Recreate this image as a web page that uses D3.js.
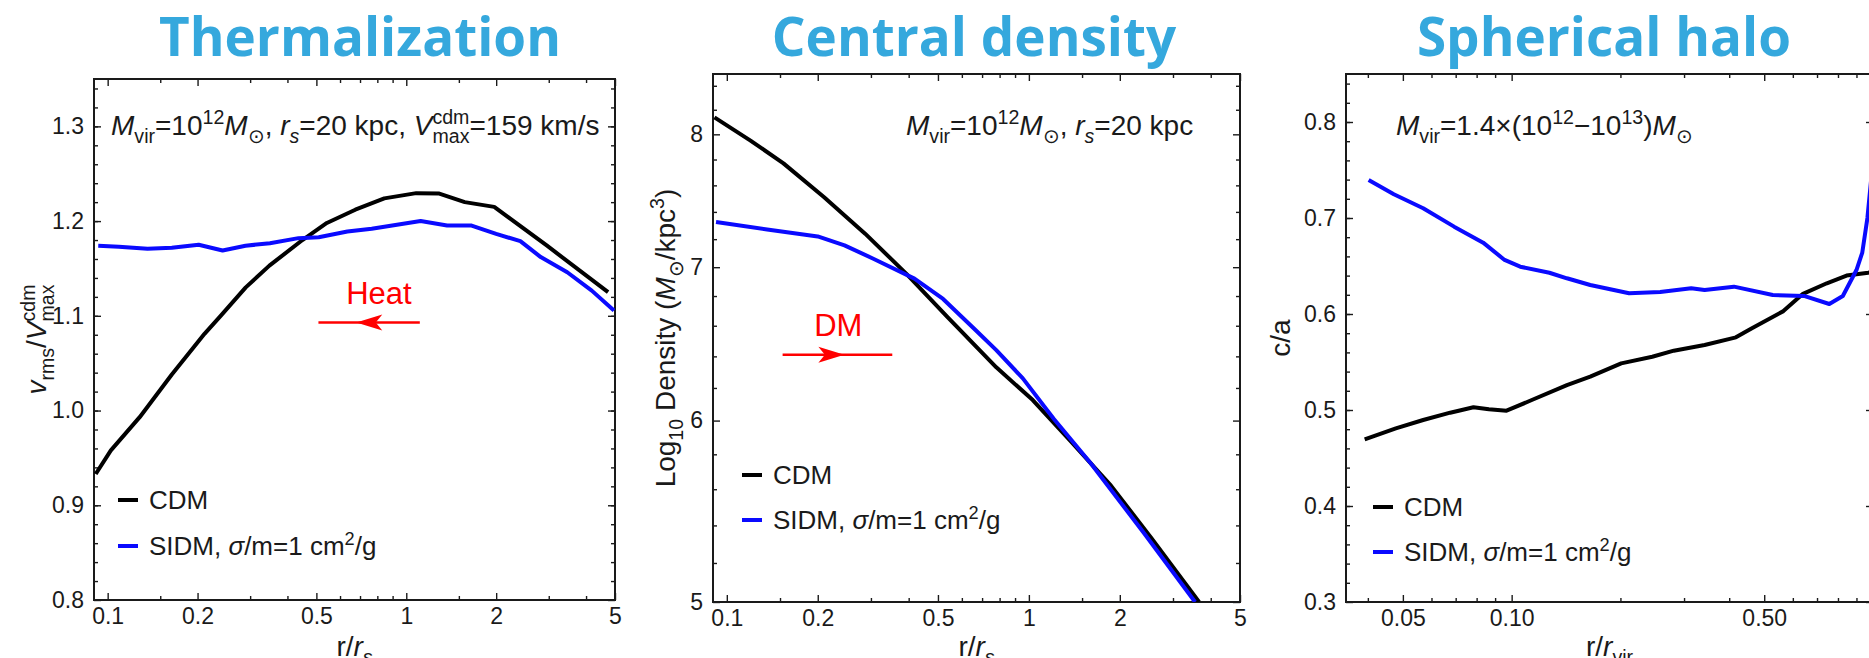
<!DOCTYPE html>
<html>
<head>
<meta charset="utf-8">
<script src="https://cdn.jsdelivr.net/npm/d3@7"></script>
<style>
  body { margin: 0; background: #fff; }
  svg text { font-family: "Liberation Sans", Arial, Helvetica, sans-serif; fill: #1a1a1a; }
</style>
</head>
<body>
<div id="vis-container"></div>
<script>
////////////////////////////////////
/////////////// Data ///////////////
////////////////////////////////////

// panel 1 : thermalization, v_rms / V_max^cdm vs r/r_s
const thermCdmR = [0.0912, 0.1025, 0.128, 0.164, 0.211, 0.239, 0.29, 0.348, 0.449, 0.542, 0.675, 0.844, 1.08, 1.29, 1.57, 1.97, 2.96, 4.74]
const thermCdmV = [0.933, 0.958, 0.993, 1.038, 1.081, 1.10, 1.13, 1.153, 1.18, 1.198, 1.212, 1.224, 1.2295, 1.229, 1.22, 1.215, 1.174, 1.125]
const thermSidmR = [0.093, 0.109, 0.136, 0.164, 0.2017, 0.2426, 0.2895, 0.3495, 0.4355, 0.509, 0.635, 0.766, 1.117, 1.37, 1.655, 2.0, 2.41, 2.82, 3.46, 4.18, 4.96]
const thermSidmV = [1.174, 1.173, 1.1707, 1.1718, 1.175, 1.169, 1.174, 1.1767, 1.182, 1.183, 1.189, 1.192, 1.20, 1.1953, 1.1953, 1.1865, 1.1788, 1.162, 1.146, 1.1266, 1.1055]

// panel 2 : central density, log10 density vs r/r_s
const densCdmR = [0.091, 0.1198, 0.154, 0.21, 0.287, 0.3925, 0.536, 0.78, 1.03, 1.37, 1.87, 2.55, 3.66]
const densCdmV = [8.137, 7.95, 7.77, 7.51, 7.24, 6.955, 6.66, 6.33, 6.125, 5.88, 5.62, 5.33, 5.0]
const densSidmR = [0.0921, 0.136, 0.2, 0.2453, 0.3055, 0.418, 0.52, 0.667, 0.78, 0.955, 1.21, 1.6, 2.4, 3.55]
const densSidmV = [7.325, 7.27, 7.22, 7.155, 7.06, 6.92, 6.78, 6.57, 6.44, 6.26, 6.01, 5.75, 5.36, 5.0]

// panel 3 : spherical halo, c/a vs r/r_vir
const shapeCdmR = [0.0392, 0.0478, 0.0569, 0.0676, 0.0784, 0.0865, 0.0968, 0.1137, 0.1422, 0.165, 0.201, 0.245, 0.281, 0.342, 0.4175, 0.461, 0.565, 0.64, 0.745, 0.845, 0.97, 1.0]
const shapeCdmV = [0.4695, 0.4809, 0.4896, 0.4972, 0.5028, 0.5007, 0.4993, 0.5104, 0.526, 0.5347, 0.5486, 0.5555, 0.5618, 0.5677, 0.5757, 0.585, 0.603, 0.621, 0.632, 0.64, 0.643, 0.644]
const shapeSidmR = [0.0402, 0.0472, 0.0569, 0.0693, 0.0834, 0.0956, 0.1056, 0.1272, 0.1422, 0.165, 0.2113, 0.2576, 0.314, 0.342, 0.4123, 0.528, 0.644, 0.757, 0.825, 0.9, 0.934, 0.965, 1.0]
const shapeSidmV = [0.7396, 0.7247, 0.7101, 0.691, 0.6743, 0.6563, 0.6493, 0.643, 0.6372, 0.6302, 0.6216, 0.623, 0.6268, 0.625, 0.6285, 0.6198, 0.6188, 0.6104, 0.6188, 0.6458, 0.664, 0.70, 0.76]

// ticks
const rsMajor = [0.1, 0.2, 0.5, 1, 2, 5]
const rsMajorLabels = ["0.1", "0.2", "0.5", "1", "2", "5"]
const rsMinor = [0.15, 0.3, 0.4, 0.6, 0.7, 0.8, 0.9, 1.5, 3, 4]
const rvirMajor = [0.05, 0.1, 0.5]
const rvirMajorLabels = ["0.05", "0.10", "0.50"]
const rvirMinor = [0.04, 0.06, 0.07, 0.08, 0.09, 0.2, 0.3, 0.4, 0.6, 0.7, 0.8, 0.9, 1.0]
const thermYMajor = [0.8, 0.9, 1.0, 1.1, 1.2, 1.3]
const thermYLabels = ["0.8", "0.9", "1.0", "1.1", "1.2", "1.3"]
const densYMajor = [5, 6, 7, 8]
const densYLabels = ["5", "6", "7", "8"]
const shapeYMajor = [0.3, 0.4, 0.5, 0.6, 0.7, 0.8]
const shapeYLabels = ["0.3", "0.4", "0.5", "0.6", "0.7", "0.8"]

const titles = ["Thermalization", "Central density", "Spherical halo"]
const legendNames = ["CDM", "SIDM"]

////////////////////////////////////
///////////// SVG Setup ////////////
////////////////////////////////////

const svgWidth = 1869
const svgHeight = 658
const titleColor = "#35a8dd"
const cdmColor = "#000000"
const sidmColor = "#0a0aff"

const svg = d3.select('#vis-container')
    .append('svg')
    .attr('width', svgWidth)
    .attr('height', svgHeight)

// text with sub/superscripts, parts = [string, kind]
function richText(g, x, y, parts, size) {
    const t = g.append('text').attr('x', x).attr('y', y).attr('font-size', size)
    let shift = 0
    let lastW = 0
    parts.forEach(([str, kind]) => {
        let target = 0
        if (kind.includes('sub')) target = size * 0.28
        if (kind.includes('sup')) target = -size * 0.38
        const ts = t.append('tspan').text(str)
            .attr('dy', target - shift)
        if (kind.includes('sub') || kind.includes('sup')) ts.attr('font-size', size * 0.7)
        if (kind.includes('i')) ts.attr('font-style', 'italic')
        if (kind.includes('stack')) ts.attr('dx', -lastW)
        shift = target
        lastW = ts.node().getComputedTextLength()
    })
    return t
}

function zip(a, b) { return a.map((d, i) => [d, b[i]]) }

const panels = [
    {
        id: 1, left: 94, right: 615, top: 79, bottom: 600, titleX: 360,
        xDomain: [0.09, 5], yDomain: [0.8, 1.35], yLog: false,
        xMajor: rsMajor, xLabels: rsMajorLabels, xMinor: rsMinor,
        yMajor: thermYMajor, yLabels: thermYLabels, yMinor: d3.range(0.82, 1.35, 0.02),
        cdm: zip(thermCdmR, thermCdmV), sidm: zip(thermSidmR, thermSidmV),
        yLabelX: 46,
        yLabel: [["v", "i"], ["rms", "sub"], ["/", ""], ["V", "i"], ["cdm", "sup"], ["max", "substack"]],
        xLabel: [["r/", ""], ["r", "i"], ["s", "isub"]],
        note: [["M", "i"], ["vir", "sub"], ["=10", ""], ["12", "sup"], ["M", "i"], ["\u2299", "sub"], [", ", ""], ["r", "i"], ["s", "isub"], ["=20 kpc, ", ""], ["V", "i"], ["cdm", "sup"], ["max", "substack"], ["=159 km/s", ""]],
        noteX: 111, legX: 118, legY: [500, 546]
    },
    {
        id: 2, left: 713, right: 1240, top: 74, bottom: 602, titleX: 974,
        xDomain: [0.09, 5], yDomain: [5, 8.5], yLog: true,
        xMajor: rsMajor, xLabels: rsMajorLabels, xMinor: rsMinor,
        yMajor: densYMajor, yLabels: densYLabels, yMinor: d3.range(5.2, 8.45, 0.2).filter(v => Math.abs(v - Math.round(v)) > 0.01),
        cdm: zip(densCdmR, densCdmV), sidm: zip(densSidmR, densSidmV),
        yLabelX: 675,
        yLabel: [["Log", ""], ["10", "sub"], [" Density (", ""], ["M", "i"], ["\u2299", "sub"], ["/kpc", ""], ["3", "sup"], [")", ""]],
        xLabel: [["r/", ""], ["r", "i"], ["s", "isub"]],
        note: [["M", "i"], ["vir", "sub"], ["=10", ""], ["12", "sup"], ["M", "i"], ["\u2299", "sub"], [", ", ""], ["r", "i"], ["s", "isub"], ["=20 kpc", ""]],
        noteX: 906, legX: 742, legY: [475, 520]
    },
    {
        id: 3, left: 1346, right: 1873, top: 74, bottom: 602, titleX: 1604,
        xDomain: [0.0348, 1.0], yDomain: [0.3, 0.85], yLog: false,
        xMajor: rvirMajor, xLabels: rvirMajorLabels, xMinor: rvirMinor,
        yMajor: shapeYMajor, yLabels: shapeYLabels, yMinor: d3.range(0.32, 0.85, 0.02),
        cdm: zip(shapeCdmR, shapeCdmV), sidm: zip(shapeSidmR, shapeSidmV),
        yLabelX: 1290,
        yLabel: [["c/a", ""]],
        xLabel: [["r/", ""], ["r", "i"], ["vir", "sub"]],
        note: [["M", "i"], ["vir", "sub"], ["=1.4\u00d7(10", ""], ["12", "sup"], ["\u221210", ""], ["13", "sup"], [")", ""], ["M", "i"], ["\u2299", "sub"]],
        noteX: 1396, legX: 1373, legY: [507, 552]
    }
]

////////////////////////////////////
///////////// Panels ///////////////
////////////////////////////////////

function styleAxis(sel, fontSize) {
    sel.select('.domain').remove()
    sel.selectAll('.tick line').attr('stroke', '#1a1a1a').attr('stroke-width', 1.4)
    sel.selectAll('.tick text').attr('font-size', fontSize).attr('font-family', null).attr('fill', '#1a1a1a')
}

panels.forEach((p, k) => {
    const g = svg.append('g')

    const xScale = d3.scaleLog().domain(p.xDomain).range([p.left, p.right])
    const yScale = (p.yLog ? d3.scaleLog() : d3.scaleLinear()).domain(p.yDomain).range([p.bottom, p.top])

    // title
    g.append('text')
        .attr('x', p.titleX).attr('y', 56)
        .attr('text-anchor', 'middle')
        .style('font-family', '"Open Sans", "DejaVu Sans", sans-serif')
        .style('font-weight', 700)
        .style('fill', titleColor)
        .attr('font-size', 53)
        .text(titles[k])

    const major = 7, minor = 4
    const tickFont = 23

    // bottom & left with labels
    g.append('g').attr('transform', `translate(0,${p.bottom})`)
        .call(d3.axisBottom(xScale).tickValues(p.xMajor).tickFormat((d, i) => p.xLabels[i]).tickSize(-major).tickPadding(8))
        .call(s => styleAxis(s, tickFont))
    g.append('g').attr('transform', `translate(0,${p.bottom})`)
        .call(d3.axisBottom(xScale).tickValues(p.xMinor).tickFormat('').tickSize(-minor))
        .call(s => styleAxis(s, tickFont))
    g.append('g').attr('transform', `translate(${p.left},0)`)
        .call(d3.axisLeft(yScale).tickValues(p.yMajor).tickFormat((d, i) => p.yLabels[i]).tickSize(-major).tickPadding(10))
        .call(s => styleAxis(s, tickFont))
    g.append('g').attr('transform', `translate(${p.left},0)`)
        .call(d3.axisLeft(yScale).tickValues(p.yMinor).tickFormat('').tickSize(-minor))
        .call(s => styleAxis(s, tickFont))

    // mirrored top & right
    g.append('g').attr('transform', `translate(0,${p.top})`)
        .call(d3.axisTop(xScale).tickValues(p.xMajor).tickFormat('').tickSize(-major))
        .call(s => styleAxis(s, tickFont))
    g.append('g').attr('transform', `translate(0,${p.top})`)
        .call(d3.axisTop(xScale).tickValues(p.xMinor).tickFormat('').tickSize(-minor))
        .call(s => styleAxis(s, tickFont))
    g.append('g').attr('transform', `translate(${p.right},0)`)
        .call(d3.axisRight(yScale).tickValues(p.yMajor).tickFormat('').tickSize(-major))
        .call(s => styleAxis(s, tickFont))
    g.append('g').attr('transform', `translate(${p.right},0)`)
        .call(d3.axisRight(yScale).tickValues(p.yMinor).tickFormat('').tickSize(-minor))
        .call(s => styleAxis(s, tickFont))

    // frame
    g.append('rect')
        .attr('x', p.left).attr('y', p.top)
        .attr('width', p.right - p.left).attr('height', p.bottom - p.top)
        .attr('fill', 'none').attr('stroke', '#1a1a1a').attr('stroke-width', 2)

    // clip
    svg.append('clipPath').attr('id', 'clip' + p.id)
        .append('rect')
        .attr('x', p.left).attr('y', p.top)
        .attr('width', p.right - p.left).attr('height', p.bottom - p.top)

    const line = d3.line().x(d => xScale(d[0])).y(d => yScale(d[1]))

    g.append('path').datum(p.cdm)
        .attr('clip-path', `url(#clip${p.id})`)
        .attr('d', line).attr('fill', 'none')
        .attr('stroke', cdmColor).attr('stroke-width', 4).attr('stroke-linejoin', 'round')
    g.append('path').datum(p.sidm)
        .attr('clip-path', `url(#clip${p.id})`)
        .attr('d', line).attr('fill', 'none')
        .attr('stroke', sidmColor).attr('stroke-width', 4).attr('stroke-linejoin', 'round')

    // axis labels
    richText(g, 0, 0, p.xLabel, 28)
        .attr('text-anchor', 'middle')
        .attr('transform', `translate(${(p.left + Math.min(p.right, svgWidth + 4)) / 2},656)`)
    richText(g, 0, 0, p.yLabel, 28)
        .attr('text-anchor', 'middle')
        .attr('transform', `translate(${p.yLabelX},${(p.top + p.bottom) / 2}) rotate(-90)`)

    // annotation
    richText(g, p.noteX, 135, p.note, 28)

    // legend
    legendNames.forEach((name, i) => {
        g.append('line')
            .attr('x1', p.legX).attr('x2', p.legX + 20)
            .attr('y1', p.legY[i]).attr('y2', p.legY[i])
            .attr('stroke', i === 0 ? cdmColor : sidmColor).attr('stroke-width', 4)
        const parts = i === 0 ? [[name, ""]] : [[name + ", ", ""], ["\u03c3", "i"], ["/m=1 cm", ""], ["2", "sup"], ["/g", ""]]
        richText(g, p.legX + 31, p.legY[i] + 9, parts, 26)
    })

    p.xScale = xScale
    p.yScale = yScale
})

////////////////////////////////////
///////////// Arrows ///////////////
////////////////////////////////////

function arrow(p, r0, r1, rTip, v, label, rLabel, vLabel) {
    const x0 = p.xScale(r0), x1 = p.xScale(r1), xt = p.xScale(rTip), yy = p.yScale(v)
    const dir = Math.sign(x1 - x0)
    svg.append('line')
        .attr('x1', x0).attr('x2', x1).attr('y1', yy).attr('y2', yy)
        .attr('stroke', 'red').attr('stroke-width', 2.5)
    const L = 26, W = 8
    svg.append('path')
        .attr('d', `M${xt},${yy} L${xt - dir * L},${yy - W} L${xt - dir * L * 0.75},${yy} L${xt - dir * L},${yy + W} Z`)
        .attr('fill', 'red')
    svg.append('text')
        .attr('x', p.xScale(rLabel)).attr('y', p.yScale(vLabel))
        .attr('text-anchor', 'middle')
        .attr('font-size', 31)
        .style('fill', 'red')
        .text(label)
}

arrow(panels[0], 1.11, 0.508, 0.68, 1.093, "Heat", 0.81, 1.113)
arrow(panels[1], 0.153, 0.353, 0.245, 6.41, "DM", 0.234, 6.53)
</script>
</body>
</html>
